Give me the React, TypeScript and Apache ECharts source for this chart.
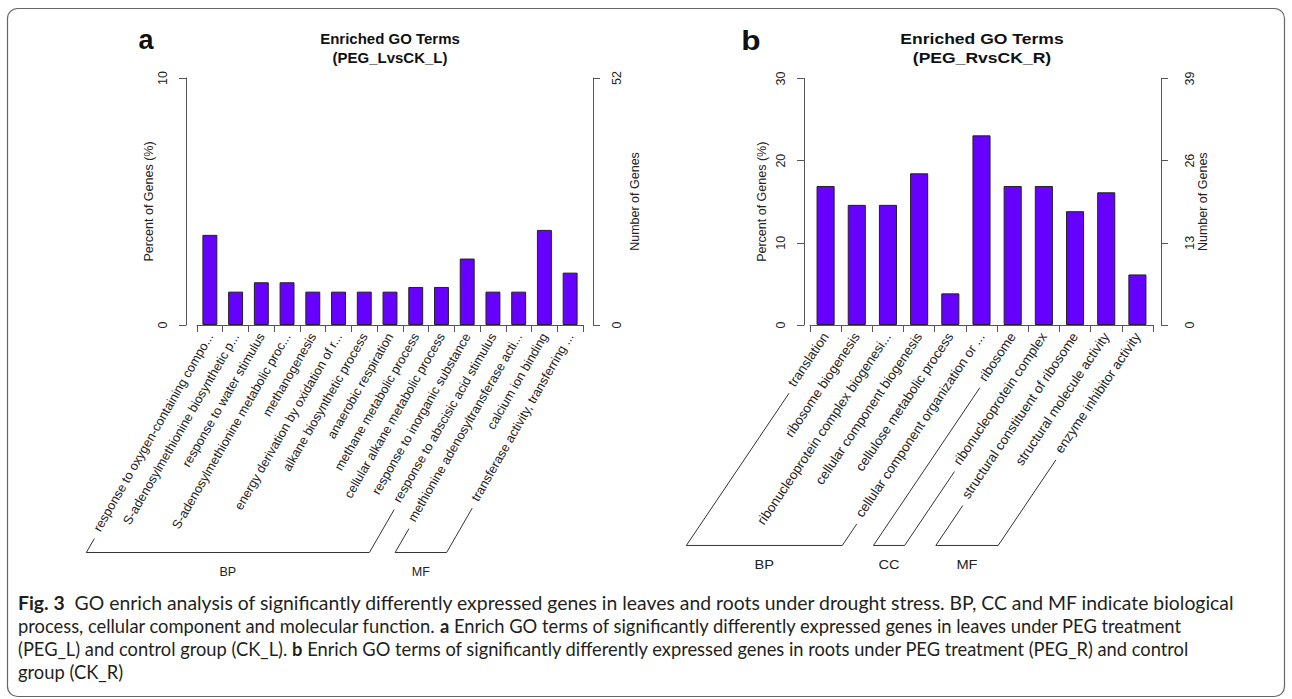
import React, { useEffect, useRef } from "react";
import * as echarts from "echarts";

// ---------- data ----------
const TERMS_A = [
  "response to oxygen-containing compo...",
  "S-adenosylmethionine biosynthetic p...",
  "response to water stimulus",
  "S-adenosylmethionine metabolic proc...",
  "methanogenesis",
  "energy derivation by oxidation of r...",
  "alkane biosynthetic process",
  "anaerobic respiration",
  "methane metabolic process",
  "cellular alkane metabolic process",
  "response to inorganic substance",
  "response to abscisic acid stimulus",
  "methionine adenosyltransferase acti...",
  "calcium ion binding",
  "transferase activity, transferring ...",
];
const PERCENT_A = [3.65, 1.35, 1.73, 1.73, 1.35, 1.35, 1.35, 1.35, 1.54, 1.54, 2.69, 1.35, 1.35, 3.85, 2.12];
const GROUPS_A = [
  { name: "BP", first: 0, last: 11 },
  { name: "MF", first: 12, last: 14 },
];

const TERMS_B = [
  "translation",
  "ribosome biogenesis",
  "ribonucleoprotein complex biogenesi...",
  "cellular component biogenesis",
  "cellulose metabolic process",
  "cellular component organization or ...",
  "ribosome",
  "ribonucleoprotein complex",
  "structural constituent of ribosome",
  "structural molecule activity",
  "enzyme inhibitor activity",
];
const PERCENT_B = [16.92, 14.62, 14.62, 18.46, 3.85, 23.08, 16.92, 16.92, 13.85, 16.15, 6.15];
const GROUPS_B = [
  { name: "BP", first: 0, last: 5 },
  { name: "CC", first: 6, last: 7 },
  { name: "MF", first: 8, last: 10 },
];

const PERCENT_AXIS_A = { max: 10, interval: 10 };
const GENES_AXIS_A = { max: 52, interval: 52 };
const PERCENT_AXIS_B = { max: 30, interval: 10 };
const GENES_AXIS_B = { max: 39, interval: 13 };

const TITLE_A = "Enriched GO Terms\n(PEG_LvsCK_L)";
const TITLE_B = "Enriched GO Terms\n(PEG_RvsCK_R)";

const CAPTION_LINES = [
  "{b|Fig. 3}  GO enrich analysis of significantly differently expressed genes in leaves and roots under drought stress. BP, CC and MF indicate biological",
  "process, cellular component and molecular function. {b|a} Enrich GO terms of significantly differently expressed genes in leaves under PEG treatment",
  "(PEG_L) and control group (CK_L). {b|b} Enrich GO terms of significantly differently expressed genes in roots under PEG treatment (PEG_R) and control",
  "group (CK_R)",
];

// ---------- styles ----------
const SANS = '"Liberation Sans", Arial, Helvetica, sans-serif';
const CAPTION_FONT = 'Lato, "Open Sans", sans-serif';
const TEXT = "#222";
const AXIS = "#555";
const BAR = "#6600ff";
const LABEL_MARGIN = 9;
const PANEL_A = { rot: 60, labelPx: 12.8, stretch: 1 };
const PANEL_B = { rot: 56, labelPx: 13.4, stretch: 1.17 };
const CAPTION_RIGHT = [1236, 1183, 1190, 0];

const measureCtx = (() => {
  const c = document.createElement("canvas");
  return c.getContext("2d") as CanvasRenderingContext2D;
})();
function textWidth(t: string, font: string) {
  measureCtx.font = font;
  return measureCtx.measureText(t).width;
}
function richWidth(t: string, size: number, family: string) {
  let w = 0;
  const re = /\{b\|([^}]*)\}/g;
  let last = 0;
  let m: RegExpExecArray | null;
  while ((m = re.exec(t))) {
    w += textWidth(t.slice(last, m.index), `${size}px ${family}`);
    w += textWidth(m[1], `bold ${size}px ${family}`);
    last = m.index + m[0].length;
  }
  w += textWidth(t.slice(last), `${size}px ${family}`);
  return w;
}

function yAxis(gridIndex: number, pos: "left" | "right", ax: { max: number; interval: number }, name: string, offset: number, margin: number, nameGap: number) {
  return {
    type: "value",
    gridIndex,
    position: pos,
    offset,
    min: 0,
    max: ax.max,
    interval: ax.interval,
    name,
    nameLocation: "middle",
    nameRotate: 90,
    nameGap,
    nameTextStyle: { fontSize: 12.5, fontFamily: SANS, color: TEXT },
    axisLine: { show: true, lineStyle: { color: AXIS, width: 1 } },
    axisTick: { show: true, length: 7, lineStyle: { color: AXIS } },
    axisLabel: { rotate: 90, margin, fontSize: 12.5, fontFamily: SANS, color: TEXT },
    splitLine: { show: false },
  };
}

function xAxis(gridIndex: number, terms: string[], panel: { rot: number; labelPx: number }) {
  return {
    type: "category",
    gridIndex,
    data: terms,
    axisLine: { show: true, lineStyle: { color: AXIS, width: 1 } },
    axisTick: { show: true, length: 7, interval: 0, lineStyle: { color: AXIS } },
    axisLabel: {
      interval: 0,
      rotate: panel.rot,
      margin: LABEL_MARGIN,
      fontSize: panel.labelPx,
      fontFamily: SANS,
      color: TEXT,
      hideOverlap: false,
    },
  };
}

function textEl(text: string, x: number, y: number, size: number, weight: string, scaleX = 1, lineHeight?: number) {
  return {
    type: "text",
    silent: true,
    x,
    y,
    scaleX,
    style: {
      text,
      x: 0,
      y: 0,
      textAlign: "center",
      align: "center",
      textVerticalAlign: "middle",
      verticalAlign: "middle",
      fill: "#111",
      fontSize: size,
      fontWeight: weight,
      fontFamily: SANS,
      lineHeight,
    },
  };
}

function bracketElements(chart: any, xAxisIndex: number, terms: string[], groups: { name: string; first: number; last: number }[], axisY: number, panel: { rot: number; labelPx: number; stretch: number }) {
  const font = `${panel.labelPx}px ${SANS}`;
  const c = Math.cos((panel.rot * Math.PI) / 180);
  const s = Math.sin((panel.rot * Math.PI) / 180);
  const starts = terms.map((t) => {
    const xc = chart.convertToPixel({ xAxisIndex }, t) as number;
    const w = textWidth(t, font);
    return [xc - w * c, axisY + LABEL_MARGIN + w * s];
  });
  const baseY = Math.max(...starts.map((p) => p[1])) + 22;
  const els: any[] = [];
  const line = (x1: number, y1: number, x2: number, y2: number) => ({
    type: "line",
    silent: true,
    shape: { x1, y1, x2, y2 },
    style: { stroke: "#333", lineWidth: 1 },
  });
  groups.forEach((g) => {
    const pts = [g.first, g.last].map((i) => {
      const top = [starts[i][0] - 2, starts[i][1] + 8];
      const dy = baseY - top[1];
      const bottom = [top[0] - (dy * c) / s, baseY];
      return { top, bottom };
    });
    els.push(line(pts[0].top[0], pts[0].top[1], pts[0].bottom[0], pts[0].bottom[1]));
    els.push(line(pts[1].top[0], pts[1].top[1], pts[1].bottom[0], pts[1].bottom[1]));
    els.push(line(pts[0].bottom[0], baseY, pts[1].bottom[0], baseY));
    const t = textEl(g.name, (pts[0].bottom[0] + pts[1].bottom[0]) / 2, baseY + 19, 12.5, "normal", panel.stretch);
    t.style.fill = TEXT;
    els.push(t);
  });
  return els;
}

export default function App() {
  const ref = useRef<HTMLDivElement>(null);
  useEffect(() => {
    document.body.style.margin = "0";
    const chart = echarts.init(ref.current!, null, { renderer: "svg" });
    const AXIS_Y = 325;
    chart.setOption({
      animation: false,
      backgroundColor: "#fff",
      grid: [
        { left: 197, top: 78, width: 386, height: 247 },
        { left: 810, top: 78.5, width: 343, height: 246.5 },
      ],
      xAxis: [xAxis(0, TERMS_A, PANEL_A), xAxis(1, TERMS_B, PANEL_B)],
      yAxis: [
        yAxis(0, "left", PERCENT_AXIS_A, "Percent of Genes (%)", 11, 17, 29),
        yAxis(0, "right", GENES_AXIS_A, "Number of Genes", 10, 17, 35),
        yAxis(1, "left", PERCENT_AXIS_B, "Percent of Genes (%)", 6, 17, 36),
        yAxis(1, "right", GENES_AXIS_B, "Number of Genes", 8, 22, 35),
      ],
      series: [
        {
          type: "bar",
          xAxisIndex: 0,
          yAxisIndex: 0,
          data: PERCENT_A,
          barWidth: "58%",
          itemStyle: { color: BAR, borderColor: "#222", borderWidth: 1 },
        },
        {
          type: "bar",
          xAxisIndex: 1,
          yAxisIndex: 2,
          data: PERCENT_B,
          barWidth: "58%",
          itemStyle: { color: BAR, borderColor: "#222", borderWidth: 1 },
        },
      ],
    });

    const capSize = (16 * (CAPTION_RIGHT[1] - 18)) / richWidth(CAPTION_LINES[1], 16, CAPTION_FONT);

    const elements: any[] = [
      {
        type: "rect",
        silent: true,
        shape: { x: 7.5, y: 8.5, width: 1277, height: 688, r: 10 },
        style: { fill: "none", stroke: "#666", lineWidth: 1.2 },
      },
      textEl("a", 146, 40, 27, "bold"),
      textEl("b", 751, 40, 27, "bold", PANEL_B.stretch),
      textEl(TITLE_A, 390, 48, 15, "bold", 1, 19),
      textEl(TITLE_B, 982, 48, 15, "bold", PANEL_B.stretch, 19),
      ...bracketElements(chart, 0, TERMS_A, GROUPS_A, AXIS_Y, PANEL_A),
      ...bracketElements(chart, 1, TERMS_B, GROUPS_B, AXIS_Y, PANEL_B),
      ...CAPTION_LINES.map((t, i) => {
        const w = richWidth(t, capSize, CAPTION_FONT);
        const sx = CAPTION_RIGHT[i] ? (CAPTION_RIGHT[i] - 18) / w : 1;
        return {
          type: "text",
          silent: true,
          x: 18,
          y: 603 + i * 23,
          scaleX: sx,
          style: {
            text: t,
            x: 0,
            y: 0,
            textAlign: "left",
            align: "left",
            textVerticalAlign: "middle",
            verticalAlign: "middle",
            fill: "#231f20",
            fontSize: capSize,
            fontFamily: CAPTION_FONT,
            rich: { b: { fontWeight: "bold", fontSize: capSize, fontFamily: CAPTION_FONT, fill: "#231f20" } },
          },
        };
      }),
    ];
    chart.setOption({ graphic: { elements } });
    return () => chart.dispose();
  }, []);
  return <div ref={ref} style={{ width: 1292, height: 699 }} />;
}
